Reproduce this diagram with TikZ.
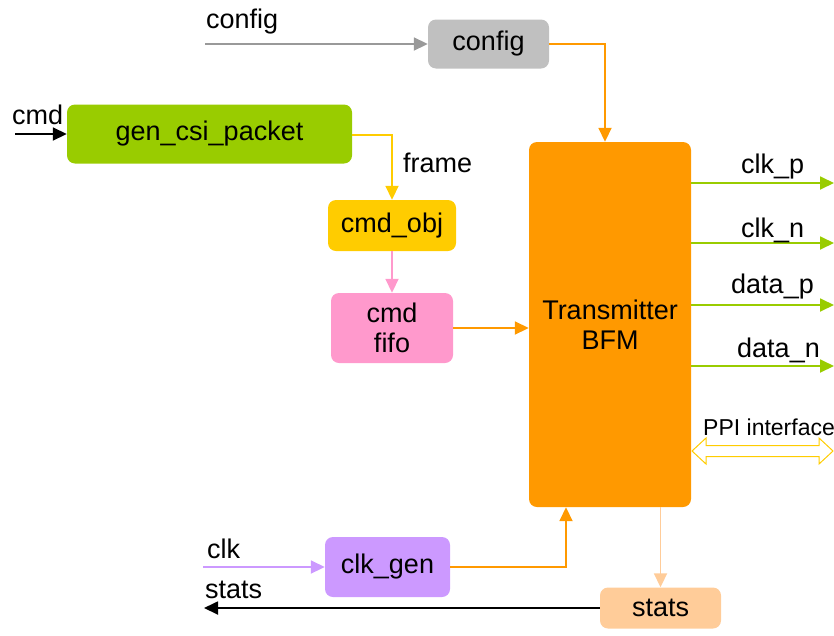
\documentclass[tikz,border=0pt]{standalone}
\usepackage{fontspec}
\setmainfont{Liberation Sans}
\usetikzlibrary{arrows.meta}
\definecolor{cfggray}{HTML}{C0C0C0}
\definecolor{cfgline}{HTML}{999999}
\definecolor{pktgreen}{HTML}{99CC00}
\definecolor{objyellow}{HTML}{FFCC00}
\definecolor{fifopink}{HTML}{FF99CC}
\definecolor{bfmorange}{HTML}{FF9900}
\definecolor{genpurple}{HTML}{CC99FF}
\definecolor{statpeach}{HTML}{FFCC99}
\tikzset{
  blk/.style={rounded corners=8pt, inner sep=0pt, align=center,
    font=\fontsize{27}{30}\selectfont},
  lbl/.style={anchor=base west, inner sep=0pt, font=\fontsize{27}{30}\selectfont},
  link/.style={line width=1.8pt, -{Triangle[length=14pt,width=13pt]}},
}
\begin{document}
\begin{tikzpicture}[x=1pt,y=-1pt]
\useasboundingbox (0,0) rectangle (834,635);

% blocks
\node[blk, fill=cfggray, minimum width=121pt, minimum height=49pt] (cfg) at (488.5,44) {config};
\node[blk, fill=pktgreen, minimum width=285pt, minimum height=59pt] (pkt) at (209.5,134) {gen\_csi\_packet};
\node[blk, fill=objyellow, minimum width=128pt, minimum height=51pt] (obj) at (392,225.5) {cmd\_obj};
\node[blk, fill=fifopink, minimum width=122pt, minimum height=70pt] (fifo) at (392,328) {cmd\\fifo};
\node[blk, fill=bfmorange, minimum width=162pt, minimum height=365pt] (bfm) at (610,324.5) {Transmitter\\BFM};
\node[blk, fill=genpurple, minimum width=125pt, minimum height=60pt] (gen) at (387.5,567) {clk\_gen};
\node[blk, fill=statpeach, minimum width=121pt, minimum height=41pt] (stats) at (660.5,608) {stats};

% free ends of the external signals
\coordinate (cfgin) at (205,44);
\coordinate (cmdin) at (15,134);
\coordinate (clkin) at (203,567);
\coordinate (statsout) at (204,608);
\coordinate (o1) at (834,183);
\coordinate (o2) at (834,243);
\coordinate (o3) at (834,305);
\coordinate (o4) at (834,366);

% inputs
\draw[link, cfgline] (cfgin) -- (cfg.west);
\draw[link, black] (cmdin) -- (pkt.west);
\draw[link, genpurple] (clkin) -- (gen.west);

% internal flow
\draw[link, objyellow] (pkt.east |- 0,135) -| (obj.north);
\draw[link, fifopink] (obj.south) -- (fifo.north);
\draw[link, bfmorange] (fifo.east) -- (bfm.west |- fifo.east);
\draw[link, bfmorange] (cfg.east) -| (bfm.north -| 605,0);
\draw[link, bfmorange] (gen.east) -| (bfm.south -| 566,0);
\draw[link, statpeach] (bfm.south -| stats.north) -- (stats.north);
\draw[link, black] (stats.west) -- (statsout);

% serial outputs
\foreach \o in {o1,o2,o3,o4}
  \draw[link, pktgreen] (bfm.east |- \o) -- (\o);

% PPI interface (hollow double arrow)
\draw[objyellow, line width=1pt, line join=miter]
  (692,451) -- (706,438) -- (706,445.5) -- (819,445.5) -- (819,438) -- (833,451)
  -- (819,464) -- (819,456.5) -- (706,456.5) -- (706,464) -- cycle;

% signal labels
\node[lbl] (tcfg) at (206,28) {config};
\node[lbl] (tcmd) at (12,124) {cmd};
\node[lbl] (tframe) at (403,172) {frame};
\node[lbl] (tclkp) at (741,173) {clk\_p};
\node[lbl] (tclkn) at (741,237) {clk\_n};
\node[lbl] (tdatap) at (731,293) {data\_p};
\node[lbl] (tdatan) at (737,357) {data\_n};
\node[lbl, font=\fontsize{23}{26}\selectfont] (tppi) at (703,435) {PPI interface};
\node[lbl] (tclk) at (207,558) {clk};
\node[lbl] (tstats) at (205,598) {stats};
\end{tikzpicture}
\end{document}
